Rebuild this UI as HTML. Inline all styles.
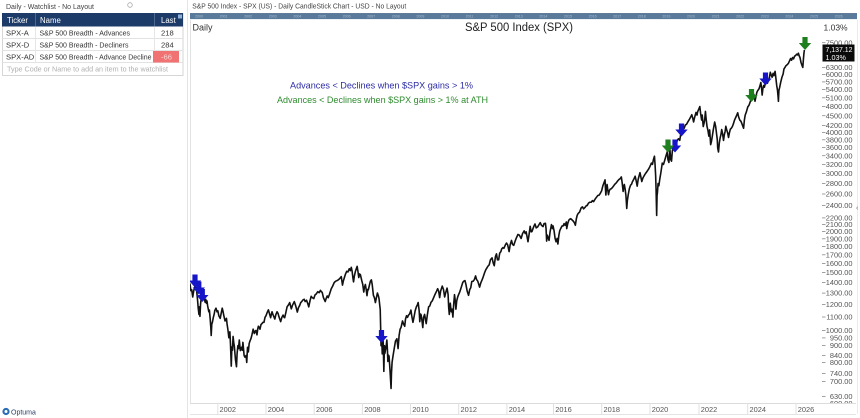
<!DOCTYPE html>
<html>
<head>
<meta charset="utf-8">
<style>
html,body{margin:0;padding:0;background:#fff;}
body{width:860px;height:418px;overflow:hidden;}
svg{display:block;font-family:"Liberation Sans",sans-serif;}
</style>
</head>
<body>
<svg width="860" height="418" viewBox="0 0 860 418" xmlns="http://www.w3.org/2000/svg">
<defs>
  <clipPath id="plot"><rect x="190" y="20" width="626" height="383"/></clipPath>
  <clipPath id="axclip"><rect x="816" y="20" width="44" height="383"/></clipPath>
  <path id="arr" d="M-2.6,-6.5 L2.6,-6.5 L2.6,-0.5 L6.2,-0.5 L0,6.5 L-6.2,-0.5 L-2.6,-0.5 Z"/>
</defs>

<!-- ===== Watchlist panel ===== -->
<text x="6" y="9" font-size="7.6" fill="#444" textLength="88" lengthAdjust="spacingAndGlyphs">Daily - Watchlist - No Layout</text>
<circle cx="130" cy="5" r="2.3" fill="none" stroke="#aaa" stroke-width="0.8"/>
<rect x="2.5" y="13.5" width="180.5" height="62" fill="#fff" stroke="#d6d6d6" stroke-width="1"/>
<rect x="2" y="13" width="181" height="13.5" fill="#1c3b68"/>
<text x="7" y="22.8" font-size="7.8" fill="#fff">Ticker</text>
<text x="40" y="22.8" font-size="7.8" fill="#fff">Name</text>
<text x="161" y="22.8" font-size="7.8" fill="#fff">Last</text>
<line x1="35.5" y1="13" x2="35.5" y2="26.5" stroke="#5a7499" stroke-width="0.8"/>
<line x1="154.5" y1="13" x2="154.5" y2="26.5" stroke="#5a7499" stroke-width="0.8"/>
<rect x="178" y="14.5" width="4" height="4" fill="#8fb0d8"/>
<line x1="2.5" y1="38.5" x2="183" y2="38.5" stroke="#e2e2e2" stroke-width="1"/>
<line x1="2.5" y1="50.5" x2="183" y2="50.5" stroke="#e2e2e2" stroke-width="1"/>
<line x1="2.5" y1="62.5" x2="183" y2="62.5" stroke="#e2e2e2" stroke-width="1"/>
<line x1="35.5" y1="26.5" x2="35.5" y2="62.5" stroke="#e6e6e6" stroke-width="1"/>
<line x1="154.5" y1="26.5" x2="154.5" y2="62.5" stroke="#e6e6e6" stroke-width="1"/>
<text x="6" y="35.3" font-size="7.6" fill="#333">SPX-A</text>
<text x="39.5" y="35.3" font-size="7.6" fill="#333" textLength="90.5" lengthAdjust="spacingAndGlyphs">S&amp;P 500 Breadth - Advances</text>
<text x="161" y="35.3" font-size="7.6" fill="#333">218</text>
<text x="6" y="47.3" font-size="7.6" fill="#333">SPX-D</text>
<text x="39.5" y="47.3" font-size="7.6" fill="#333" textLength="89" lengthAdjust="spacingAndGlyphs">S&amp;P 500 Breadth - Decliners</text>
<text x="161" y="47.3" font-size="7.6" fill="#333">284</text>
<text x="6" y="59.3" font-size="7.6" fill="#333">SPX-AD</text>
<text x="39.5" y="59.3" font-size="7.6" fill="#333" textLength="112" lengthAdjust="spacingAndGlyphs">S&amp;P 500 Breadth - Advance Decline</text>
<rect x="153" y="51" width="26" height="11.5" fill="#f07272"/>
<text x="161" y="59.3" font-size="7.6" fill="#fcd6d6">-66</text>
<text x="7" y="71.5" font-size="7.2" fill="#b0b0b0" textLength="161" lengthAdjust="spacingAndGlyphs">Type Code or Name to add an item to the watchlist</text>

<!-- Optuma logo -->
<circle cx="6" cy="411.5" r="3.6" fill="#2a6db5"/>
<circle cx="6" cy="411.5" r="1.5" fill="#fff"/>
<text x="11" y="414.5" font-size="7" fill="#2b3e66">Optuma</text>

<!-- panel separator -->
<line x1="187.5" y1="0" x2="187.5" y2="418" stroke="#e4e4e4" stroke-width="1"/>

<!-- ===== Chart header ===== -->
<text x="192.3" y="8.5" font-size="7.6" fill="#444" textLength="214" lengthAdjust="spacingAndGlyphs">S&amp;P 500 Index - SPX (US) - Daily CandleStick Chart - USD - No Layout</text>
<rect x="190" y="13.3" width="667" height="5.8" fill="#5a7a9c"/>
<line x1="190" y1="13.6" x2="857" y2="13.6" stroke="#3f5f82" stroke-width="0.6"/>
<g font-size="3.6" fill="#a9bccf">
<text x="195" y="17.6">2000</text><text x="219.6" y="17.6">2001</text><text x="244.2" y="17.6">2002</text><text x="268.8" y="17.6">2003</text><text x="293.4" y="17.6">2004</text><text x="318" y="17.6">2005</text><text x="342.6" y="17.6">2006</text><text x="367.2" y="17.6">2007</text><text x="391.8" y="17.6">2008</text><text x="416.4" y="17.6">2009</text><text x="441" y="17.6">2010</text><text x="465.6" y="17.6">2011</text><text x="490.2" y="17.6">2012</text><text x="514.8" y="17.6">2013</text><text x="539.4" y="17.6">2014</text><text x="564" y="17.6">2015</text><text x="588.6" y="17.6">2016</text><text x="613.2" y="17.6">2017</text><text x="637.8" y="17.6">2018</text><text x="662.4" y="17.6">2019</text><text x="687" y="17.6">2020</text><text x="711.6" y="17.6">2021</text><text x="736.2" y="17.6">2022</text><text x="760.8" y="17.6">2023</text><text x="785.4" y="17.6">2024</text><text x="810" y="17.6">2025</text><text x="834.6" y="17.6">2026</text>
</g>

<text x="192.5" y="30.5" font-size="9" fill="#333">Daily</text>
<text x="465" y="31" font-size="12.2" fill="#222" textLength="108" lengthAdjust="spacingAndGlyphs">S&amp;P 500 Index (SPX)</text>
<text x="823.5" y="30.5" font-size="8.5" fill="#333">1.03%</text>

<!-- plot borders -->
<line x1="190.5" y1="20" x2="190.5" y2="414" stroke="#e2e2e2" stroke-width="1"/>
<line x1="857.5" y1="20" x2="857.5" y2="414" stroke="#ececec" stroke-width="1"/>

<!-- annotations -->
<text x="290" y="88.3" font-size="9.2" fill="#2c2ca6" textLength="183" lengthAdjust="spacingAndGlyphs">Advances &lt; Declines when $SPX gains &gt; 1%</text>
<text x="277" y="102.8" font-size="9.2" fill="#2f8b2f" textLength="211" lengthAdjust="spacingAndGlyphs">Advances &lt; Declines when $SPX gains &gt; 1% at ATH</text>

<!-- ===== Price series (x = months since Jan 2000, y = 1000*log10(price)) ===== -->
<g clip-path="url(#plot)">
<polyline transform="matrix(2.0075 0 0 -0.3289 169.64 1317.22)" fill="none" stroke="#111" stroke-width="1.6" stroke-linejoin="round" vector-effect="non-scaling-stroke" points="
10.1,3143 10.6,3121 11.0,3124 11.5,3102 12.0,3121 12.4,3130 12.7,3138 13.0,3127 13.3,3131 13.9,3093 14.2,3070 14.6,3049 14.8,3072 15.1,3043 15.4,3080 15.7,3097 16.1,3105 16.6,3119 16.9,3100 17.2,3097 17.7,3086 18.0,3095 18.3,3083 18.6,3090 18.9,3076 19.5,3057 19.8,3062 20.2,3035 20.5,3010 20.7,2985 21.0,3020 21.3,3025 21.8,3041 22.2,3050 22.5,3061 23.1,3068 23.6,3057 24.0,3060 24.5,3045 25.2,3037 25.6,3050 26.2,3068 26.6,3058 27.0,3045 27.6,3029 28.3,3037 28.6,3020 29.0,3004 29.5,2978 30.0,2996 30.3,2960 30.7,2892 31.0,2950 31.3,2940 31.6,2982 32.0,2960 32.2,2954 32.8,2911 33.3,2890 33.6,2930 34.0,2954 34.3,2945 34.7,2971 35.2,2939 35.8,2949 36.2,2940 36.5,2964 37.1,2924 37.5,2919 38.1,2924 38.4,2903 38.8,2949 39.2,2935 39.6,2960 40.0,2968 40.5,2975 41.0,2987 41.6,3004 42.2,2991 42.6,2998 43.0,3000 43.5,2987 43.9,3005 44.2,3013 44.6,3010 45.0,3004 45.5,3018 46.0,3021 46.5,3025 47.0,3025 47.5,3040 48.0,3045 48.6,3055 49.2,3063 49.7,3052 50.3,3039 50.7,3050 51.0,3057 51.5,3048 52.4,3035 52.9,3048 53.5,3057 54.0,3052 54.5,3041 55.3,3027 55.9,3040 56.5,3047 57.0,3040 57.3,3039 57.9,3055 58.5,3072 59.2,3078 59.8,3085 60.6,3066 61.2,3077 62.1,3088 62.8,3075 63.6,3056 64.2,3070 64.7,3075 65.3,3085 65.8,3088 66.4,3093 67.0,3095 67.5,3088 68.2,3092 68.8,3082 69.3,3072 69.9,3090 70.5,3104 71.0,3100 71.8,3097 72.4,3108 73.0,3111 73.8,3118 74.5,3115 75.1,3122 75.6,3118 76.0,3116 76.6,3100 77.5,3088 78.0,3098 78.5,3105 79.0,3100 79.6,3110 80.5,3127 81.2,3135 82.0,3146 82.7,3150 83.5,3152 84.2,3155 85.0,3160 85.5,3164 86.1,3138 86.5,3150 87.0,3160 87.5,3170 88.2,3180 88.8,3178 89.5,3188 90.0,3182 90.5,3192 90.9,3180 91.3,3160 91.6,3148 92.0,3165 92.5,3179 93.0,3188 93.4,3195 93.8,3180 94.2,3161 94.6,3172 95.0,3170 95.4,3160 95.7,3152 96.2,3140 96.7,3117 97.0,3130 97.5,3140 97.9,3125 98.3,3106 98.7,3125 99.0,3124 99.6,3140 100.0,3150 100.5,3154 100.9,3140 101.5,3107 102.0,3100 102.5,3085 103.0,3100 103.5,3114 104.0,3105 104.3,3097 104.6,3080 104.9,3064 105.1,3010 105.3,2954 105.5,2990 105.6,2993 105.9,2929 106.2,2982 106.4,2960 106.7,2876 107.0,2954 107.2,2930 107.5,2940 107.8,2950 108.2,2971 108.5,2940 108.7,2906 109.0,2925 109.3,2922 109.6,2895 109.9,2866 110.3,2824 110.5,2870 110.8,2903 111.2,2920 111.6,2935 112.0,2950 112.5,2968 113.2,2975 113.8,2945 114.3,2985 114.8,3004 115.3,3010 116.0,3029 116.5,3020 117.1,3013 117.5,3035 118.0,3045 118.5,3040 119.0,3047 119.5,3050 120.2,3062 120.6,3045 121.2,3025 121.7,3040 122.3,3060 122.9,3072 123.4,3078 123.8,3085 124.3,3060 124.6,3027 125.0,3050 125.3,3047 125.7,3030 126.1,3009 126.5,3040 127.0,3049 127.4,3035 127.8,3021 128.3,3045 129.0,3072 129.6,3075 130.2,3086 130.8,3090 131.5,3100 132.2,3110 133.0,3120 133.5,3127 134.0,3120 134.5,3100 135.0,3120 135.8,3135 136.4,3125 137.0,3102 137.5,3115 138.2,3129 138.7,3110 139.0,3070 139.3,3049 139.6,3070 139.8,3083 140.1,3065 140.3,3057 140.7,3065 141.1,3041 141.5,3080 141.9,3109 142.3,3090 142.6,3065 143.0,3090 143.5,3102 144.0,3110 144.5,3117 145.2,3130 146.0,3146 146.5,3150 147.1,3152 147.6,3140 148.2,3120 148.9,3107 149.5,3125 150.0,3130 150.5,3149 151.2,3150 151.8,3155 152.4,3166 152.9,3155 153.5,3150 154.0,3140 154.4,3132 155.0,3145 155.7,3155 156.3,3165 156.9,3176 157.5,3185 158.0,3190 158.5,3195 159.2,3200 159.8,3215 160.6,3221 161.2,3205 161.7,3197 162.3,3225 162.8,3233 163.3,3215 163.9,3215 164.4,3235 165.0,3240 165.4,3248 166.0,3252 166.5,3250 167.2,3260 167.8,3266 168.4,3260 169.1,3240 169.6,3260 170.3,3274 170.8,3262 171.4,3259 172.0,3270 172.6,3280 173.5,3292 174.2,3290 175.1,3280 175.8,3295 176.6,3303 177.1,3295 177.6,3300 178.2,3280 178.5,3270 179.0,3290 179.6,3317 180.1,3300 180.5,3301 181.0,3310 181.5,3318 182.0,3324 182.6,3312 183.3,3315 184.0,3322 184.6,3328 185.2,3320 186.0,3316 186.5,3325 187.2,3326 187.5,3310 187.8,3272 188.1,3290 188.5,3283 189.0,3274 189.5,3300 190.2,3322 190.7,3310 191.0,3318 191.5,3303 192.0,3280 192.5,3270 193.0,3280 193.4,3263 193.9,3290 194.3,3303 194.8,3310 195.5,3318 196.0,3318 196.5,3325 197.0,3320 197.6,3330 197.8,3310 198.3,3325 198.8,3335 199.2,3338 199.8,3340 200.5,3336 201.0,3333 201.6,3328 202.1,3320 202.6,3340 203.0,3350 203.5,3356 204.2,3360 205.0,3373 205.6,3376 206.2,3370 207.0,3375 207.6,3380 208.0,3380 208.6,3387 209.2,3390 210.0,3390 210.6,3395 211.2,3392 212.0,3400 212.6,3405 213.2,3410 214.0,3412 214.6,3418 215.2,3425 215.8,3440 216.4,3450 216.9,3458 217.1,3430 217.3,3412 217.6,3435 217.9,3444 218.3,3425 218.6,3413 219.0,3425 219.5,3430 220.0,3431 220.6,3435 221.2,3440 221.8,3445 222.5,3449 223.2,3455 224.0,3460 224.5,3462 225.0,3467 225.4,3450 225.9,3423 226.3,3440 226.5,3444 226.9,3430 227.3,3410 227.7,3371 228.0,3395 228.5,3415 229.0,3431 229.6,3442 230.1,3445 230.5,3452 231.2,3460 231.9,3469 232.4,3455 232.9,3439 233.4,3460 234.3,3480 234.8,3465 235.2,3453 235.7,3463 236.3,3470 237.0,3477 237.6,3482 238.5,3490 239.2,3498 240.0,3509 240.5,3505 241.0,3520 241.5,3530 241.8,3505 242.1,3470 242.3,3430 242.6,3350 242.8,3410 243.0,3420 243.3,3447 243.7,3440 244.2,3462 244.7,3480 245.4,3509 246.0,3505 246.5,3515 247.2,3530 247.9,3544 248.2,3520 248.7,3511 249.2,3550 249.6,3520 250.0,3515 250.4,3545 250.8,3559 251.3,3565 251.9,3574 252.4,3570 253.0,3580 253.5,3583 254.1,3578 254.6,3597 255.2,3610 255.8,3620 256.3,3615 256.9,3625 257.5,3627 258.2,3635 259.0,3643 259.6,3650 260.1,3656 260.6,3645 261.0,3634 261.5,3648 262.2,3663 262.7,3655 263.0,3665 263.5,3672 264.1,3681 264.5,3660 265.0,3640 265.3,3655 265.8,3620 266.2,3630 266.5,3640 266.9,3666 267.3,3640 267.7,3620 268.1,3610 268.6,3591 269.0,3610 269.5,3565 269.9,3575 270.3,3590 270.8,3610 271.5,3634 272.0,3620 272.4,3600 272.8,3580 273.0,3555 273.4,3543 273.8,3570 274.2,3585 274.6,3595 275.0,3611 275.4,3600 275.9,3578 276.3,3595 276.7,3605 277.05,3621 277.5,3610 278.0,3600 278.4,3587 278.8,3600 279.3,3612 279.8,3615 280.3,3620 280.8,3628 281.4,3640 282.0,3648 282.5,3655 282.97,3662 283.4,3650 284.0,3640 284.6,3636 285.3,3625 285.9,3615 286.3,3640 286.7,3655 287.3,3665 288.0,3680 288.6,3685 289.2,3695 289.7,3705 290.2,3715 290.6,3720 291.0,3718 291.6,3697 292.0,3710 292.5,3724 293.0,3730 293.6,3735 294.1,3745 294.5,3754 294.9,3735 295.15,3716 295.5,3735 295.9,3745 296.3,3740 296.8,3755 297.3,3758 297.8,3752 298.3,3762 298.8,3770 299.2,3785 299.6,3778 300.1,3770 300.6,3782 301.0,3775 301.6,3788 302.0,3767 302.4,3745 302.8,3730 303.1,3710 303.25,3697 303.5,3730 303.9,3740 304.4,3755 305.0,3770 305.6,3780 306.0,3795 306.5,3800 307.0,3805 307.6,3808 308.2,3812 308.8,3820 309.3,3827 309.8,3822 310.3,3830 310.8,3826 311.3,3834 311.8,3836 312.3,3840 312.8,3838 313.2,3843 313.6,3835 314.0,3830 314.5,3815 315.0,3806 315.4,3800 315.7,3825 316.0,3845 316.2,3853"/>

<!-- signal arrows -->
<g fill="#1616c8">
  <use href="#arr" x="195" y="281"/>
  <use href="#arr" x="198.8" y="288"/>
  <use href="#arr" x="202.3" y="295.5"/>
  <use href="#arr" x="381.5" y="336.5"/>
  <use href="#arr" x="675" y="146"/>
  <use href="#arr" x="681.5" y="130"/>
  <use href="#arr" x="765.5" y="79"/>
</g>
<g fill="#1e7f1e">
  <use href="#arr" x="668" y="146"/>
  <use href="#arr" x="751.5" y="95.5"/>
  <use href="#arr" x="805" y="43.5"/>
</g>
</g>

<!-- ===== Right price axis ===== -->
<g clip-path="url(#axclip)" font-size="7.4" fill="#555" text-anchor="end">
<g stroke="#888" stroke-width="0.8">
<line x1="822" x2="825.5" y1="42.7" y2="42.7"/><line x1="822" x2="825.5" y1="67.6" y2="67.6"/><line x1="822" x2="825.5" y1="74.6" y2="74.6"/><line x1="822" x2="825.5" y1="81.9" y2="81.9"/><line x1="822" x2="825.5" y1="89.6" y2="89.6"/><line x1="822" x2="825.5" y1="97.8" y2="97.8"/><line x1="822" x2="825.5" y1="106.5" y2="106.5"/><line x1="822" x2="825.5" y1="115.7" y2="115.7"/><line x1="822" x2="825.5" y1="125.5" y2="125.5"/><line x1="822" x2="825.5" y1="132.5" y2="132.5"/><line x1="822" x2="825.5" y1="139.8" y2="139.8"/><line x1="822" x2="825.5" y1="147.6" y2="147.6"/><line x1="822" x2="825.5" y1="155.7" y2="155.7"/><line x1="822" x2="825.5" y1="164.4" y2="164.4"/><line x1="822" x2="825.5" y1="173.6" y2="173.6"/><line x1="822" x2="825.5" y1="183.5" y2="183.5"/><line x1="822" x2="825.5" y1="194" y2="194"/><line x1="822" x2="825.5" y1="205.5" y2="205.5"/><line x1="822" x2="825.5" y1="217.9" y2="217.9"/><line x1="822" x2="825.5" y1="224.6" y2="224.6"/><line x1="822" x2="825.5" y1="231.5" y2="231.5"/><line x1="822" x2="825.5" y1="238.8" y2="238.8"/><line x1="822" x2="825.5" y1="246.6" y2="246.6"/><line x1="822" x2="825.5" y1="254.8" y2="254.8"/><line x1="822" x2="825.5" y1="263.4" y2="263.4"/><line x1="822" x2="825.5" y1="272.6" y2="272.6"/><line x1="822" x2="825.5" y1="282.5" y2="282.5"/><line x1="822" x2="825.5" y1="293.1" y2="293.1"/><line x1="822" x2="825.5" y1="304.5" y2="304.5"/><line x1="822" x2="825.5" y1="317" y2="317"/><line x1="822" x2="825.5" y1="330.5" y2="330.5"/><line x1="822" x2="825.5" y1="337.9" y2="337.9"/><line x1="822" x2="825.5" y1="345.6" y2="345.6"/><line x1="822" x2="825.5" y1="355.5" y2="355.5"/><line x1="822" x2="825.5" y1="362.4" y2="362.4"/><line x1="822" x2="825.5" y1="373.6" y2="373.6"/><line x1="822" x2="825.5" y1="381.5" y2="381.5"/><line x1="822" x2="825.5" y1="396.6" y2="396.6"/><line x1="822" x2="825.5" y1="403.5" y2="403.5"/>
</g>
<text x="852.5" y="45.3">7500.00</text>
<text x="852.5" y="70.2">6300.00</text>
<text x="852.5" y="77.2">6000.00</text>
<text x="852.5" y="84.5">5700.00</text>
<text x="852.5" y="92.2">5400.00</text>
<text x="852.5" y="100.4">5100.00</text>
<text x="852.5" y="109.1">4800.00</text>
<text x="852.5" y="118.3">4500.00</text>
<text x="852.5" y="128.1">4200.00</text>
<text x="852.5" y="135.1">4000.00</text>
<text x="852.5" y="142.4">3800.00</text>
<text x="852.5" y="150.2">3600.00</text>
<text x="852.5" y="158.3">3400.00</text>
<text x="852.5" y="167">3200.00</text>
<text x="852.5" y="176.2">3000.00</text>
<text x="852.5" y="186.1">2800.00</text>
<text x="852.5" y="196.6">2600.00</text>
<text x="852.5" y="208.1">2400.00</text>
<text x="852.5" y="220.5">2200.00</text>
<text x="852.5" y="227.2">2100.00</text>
<text x="852.5" y="234.1">2000.00</text>
<text x="852.5" y="241.4">1900.00</text>
<text x="852.5" y="249.2">1800.00</text>
<text x="852.5" y="257.4">1700.00</text>
<text x="852.5" y="266">1600.00</text>
<text x="852.5" y="275.2">1500.00</text>
<text x="852.5" y="285.1">1400.00</text>
<text x="852.5" y="295.7">1300.00</text>
<text x="852.5" y="307.1">1200.00</text>
<text x="852.5" y="319.6">1100.00</text>
<text x="852.5" y="333.1">1000.00</text>
<text x="852.5" y="340.5">950.00</text>
<text x="852.5" y="348.2">900.00</text>
<text x="852.5" y="358.1">840.00</text>
<text x="852.5" y="365">800.00</text>
<text x="852.5" y="376.2">740.00</text>
<text x="852.5" y="384.1">700.00</text>
<text x="852.5" y="399.2">630.00</text>
<text x="852.5" y="406.1">600.00</text>
</g>
<text x="856" y="210" font-size="7" fill="#666">‹</text>

<!-- last price box -->
<rect x="822.5" y="44.5" width="32" height="17" fill="#0a0a0a"/>
<text x="825.5" y="51.8" font-size="7.2" fill="#fff" textLength="27" lengthAdjust="spacingAndGlyphs">7,137.12</text>
<text x="825.5" y="59.8" font-size="7.2" fill="#fff">1.03%</text>

<!-- ===== Bottom time axis ===== -->
<rect x="190" y="403.5" width="667" height="11" fill="#fff"/>
<line x1="190" y1="403.5" x2="856" y2="403.5" stroke="#dcdcdc" stroke-width="1"/>
<line x1="190" y1="414.5" x2="856" y2="414.5" stroke="#e4e4e4" stroke-width="1"/>
<g stroke="#e0e0e0" stroke-width="1">
<line x1="217.8" y1="403.5" x2="217.8" y2="414.5"/><line x1="266" y1="403.5" x2="266" y2="414.5"/><line x1="314.2" y1="403.5" x2="314.2" y2="414.5"/><line x1="362.4" y1="403.5" x2="362.4" y2="414.5"/><line x1="410.5" y1="403.5" x2="410.5" y2="414.5"/><line x1="458.7" y1="403.5" x2="458.7" y2="414.5"/><line x1="506.9" y1="403.5" x2="506.9" y2="414.5"/><line x1="553.5" y1="403.5" x2="553.5" y2="414.5"/><line x1="601.7" y1="403.5" x2="601.7" y2="414.5"/><line x1="650" y1="403.5" x2="650" y2="414.5"/><line x1="699" y1="403.5" x2="699" y2="414.5"/><line x1="747.7" y1="403.5" x2="747.7" y2="414.5"/><line x1="796" y1="403.5" x2="796" y2="414.5"/>
</g>
<g font-size="7.4" fill="#555">
<text x="219.5" y="412">2002</text><text x="267.8" y="412">2004</text><text x="316" y="412">2006</text><text x="364.2" y="412">2008</text><text x="412.3" y="412">2010</text><text x="460.5" y="412">2012</text><text x="508.7" y="412">2014</text><text x="555.3" y="412">2016</text><text x="603.5" y="412">2018</text><text x="651.8" y="412">2020</text><text x="700.8" y="412">2022</text><text x="749.5" y="412">2024</text><text x="797.8" y="412">2026</text>
</g>
</svg>
</body>
</html>
